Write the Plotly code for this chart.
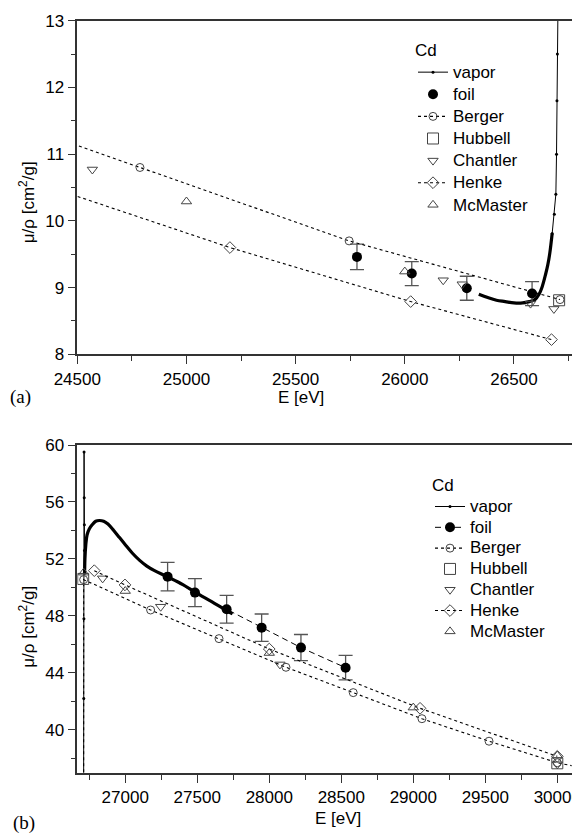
import plotly.graph_objects as go

W, H = 580, 835
OFF = 8  # page body margin of the html page
FONT = "Liberation Sans, Arial, sans-serif"

# ---------------- panel (a) data ----------------
a_vapor_edge_E = [26675, 26685, 26692, 26695, 26697, 26699, 26701, 26704]
a_vapor_edge_mu = [9.81, 10.1, 10.4, 11.0, 11.8, 12.5, 13.2, 14.0]
a_vapor_E = [26339, 26380, 26420, 26460, 26500, 26540, 26570, 26596, 26615, 26629, 26645, 26655, 26664, 26675]
a_vapor_mu = [8.90, 8.85, 8.81, 8.79, 8.77, 8.77, 8.79, 8.82, 8.90, 9.01, 9.20, 9.34, 9.51, 9.81]
a_foil_E = [25781, 26032, 26284, 26583]
a_foil_mu = [9.46, 9.21, 8.99, 8.91]
a_foil_err = [0.19, 0.18, 0.18, 0.18]
a_berger_E = [24300, 24787, 25745, 26711]
a_berger_mu = [11.36, 10.80, 9.70, 8.82]
a_hubbell_E = [26707]
a_hubbell_mu = [8.81]
a_chantler_E = [24569, 26176, 26263, 26576, 26683]
a_chantler_mu = [10.77, 9.11, 9.05, 8.76, 8.68]
a_henke_E = [24397, 25199, 26027, 26672]
a_henke_mu = [10.48, 9.60, 8.79, 8.22]
a_mcmaster_E = [25000, 26000]
a_mcmaster_mu = [10.29, 9.24]

# ---------------- panel (b) data ----------------
b_vapor_edge_E = [26711, 26712, 26713, 26714, 26715, 26716, 26717, 26718]
b_vapor_edge_mu = [36.0, 42.2, 47.8, 59.5, 56.3, 54.4, 52.6, 51.0]
b_vapor_E = [26718, 26720, 26726, 26735, 26750, 26770, 26795, 26820, 26850, 26880, 26920, 26960,
             27000, 27050, 27100, 27150, 27200, 27290, 27400, 27490, 27600, 27700, 27745]
b_vapor_mu = [51.0, 52.0, 53.0, 53.7, 54.1, 54.4, 54.65, 54.7, 54.65, 54.45, 54.0, 53.5,
              53.0, 52.4, 51.9, 51.5, 51.2, 50.76, 50.2, 49.64, 49.0, 48.4, 48.15]
b_foil_E = [27294, 27484, 27704, 27947, 28220, 28530]
b_foil_mu = [50.76, 49.64, 48.47, 47.18, 45.78, 44.37]
b_foil_err = [1.0, 0.98, 0.97, 0.96, 0.92, 0.86]
b_berger_E = [26711, 26711, 27176, 27651, 28116, 28583, 29060, 29526, 30000, 40000]
b_berger_mu = [8.82, 50.55, 48.42, 46.41, 44.40, 42.62, 40.79, 39.21, 37.70, 17.0]
b_hubbell_E = [26708, 30000]
b_hubbell_mu = [50.6, 37.66]
b_chantler_E = [26843, 27246, 28074, 30000]
b_chantler_mu = [50.64, 48.65, 44.60, 37.59]
b_henke_E = [26785, 26998, 28000, 29047, 30000]
b_henke_mu = [51.18, 50.18, 45.68, 41.52, 38.15]
b_mcmaster_E = [26711, 27000, 28000, 29000, 30000]
b_mcmaster_mu = [51.04, 49.75, 45.40, 41.57, 38.20]

legend_names = ["vapor", "foil", "Berger", "Hubbell", "Chantler", "Henke", "McMaster"]

GRAY = "#444444"


def px_x(p):
    return (p - OFF) / W


def px_y(p):
    return 1 - (p - OFF) / H


fig = go.Figure()


def add_panel(xa, ya, leg, d, foil_line):
    (ve_E, ve_mu, v_E, v_mu, f_E, f_mu, f_err, be_E, be_mu, hu_E, hu_mu,
     ch_E, ch_mu, he_E, he_mu, mc_E, mc_mu) = d
    common = dict(xaxis=xa, yaxis=ya, legend=leg)
    nm = ['<span style="font-size:17px">%s</span>' % n for n in legend_names]
    fig.add_trace(go.Scatter(x=ve_E, y=ve_mu, mode="lines+markers", name=nm[0],
                             legendgroup=leg + "v",
                             line=dict(color="black", width=1),
                             marker=dict(size=3, color="black"), **common))
    fig.add_trace(go.Scatter(x=v_E, y=v_mu, mode="lines", name=nm[0],
                             legendgroup=leg + "v", showlegend=False,
                             line=dict(color="black", width=3.2, shape="spline"), **common))
    fig.add_trace(go.Scatter(x=f_E, y=f_mu, mode="lines+markers" if foil_line else "markers",
                             name=nm[1],
                             line=dict(color="black", width=1, dash="6px,4px"),
                             marker=dict(size=10, color="black"),
                             error_y=dict(type="data", array=f_err, visible=True,
                                          color="#555555", thickness=1.3, width=7),
                             **common))
    fig.add_trace(go.Scatter(x=be_E, y=be_mu, mode="lines+markers", name=nm[2],
                             line=dict(color="black", width=1.1, dash="dot"),
                             marker=dict(symbol="circle-open", size=8, color=GRAY,
                                         line=dict(width=1)), **common))
    fig.add_trace(go.Scatter(x=hu_E, y=hu_mu, mode="markers", name=nm[3],
                             marker=dict(symbol="square-open", size=11, color=GRAY,
                                         line=dict(width=1)), **common))
    fig.add_trace(go.Scatter(x=ch_E, y=ch_mu, mode="markers", name=nm[4],
                             marker=dict(symbol="triangle-down-open", size=9, color=GRAY,
                                         line=dict(width=1)), **common))
    fig.add_trace(go.Scatter(x=he_E, y=he_mu, mode="lines+markers", name=nm[5],
                             line=dict(color="black", width=1.1, dash="dot"),
                             marker=dict(symbol="diamond-open", size=9, color=GRAY,
                                         line=dict(width=1)), **common))
    fig.add_trace(go.Scatter(x=mc_E, y=mc_mu, mode="markers", name=nm[6],
                             marker=dict(symbol="triangle-up-open", size=9, color=GRAY,
                                         line=dict(width=1)), **common))


add_panel("x", "y", "legend",
          (a_vapor_edge_E, a_vapor_edge_mu, a_vapor_E, a_vapor_mu, a_foil_E, a_foil_mu, a_foil_err,
           a_berger_E, a_berger_mu, a_hubbell_E, a_hubbell_mu, a_chantler_E, a_chantler_mu,
           a_henke_E, a_henke_mu, a_mcmaster_E, a_mcmaster_mu), False)
add_panel("x2", "y2", "legend2",
          (b_vapor_edge_E, b_vapor_edge_mu, b_vapor_E, b_vapor_mu, b_foil_E, b_foil_mu, b_foil_err,
           b_berger_E, b_berger_mu, b_hubbell_E, b_hubbell_mu, b_chantler_E, b_chantler_mu,
           b_henke_E, b_henke_mu, b_mcmaster_E, b_mcmaster_mu), True)

axis_common = dict(showgrid=False, zeroline=False, showline=True, linecolor="#333333",
                   linewidth=1.6, mirror=True, ticks="outside", ticklen=8, tickwidth=1.4,
                   tickcolor="#333333", tickfont=dict(family=FONT, size=17, color="black"),
                   tickformat="d", automargin=False, ticklabeloverflow="allow")

fig.update_layout(
    template="none",
    width=W, height=H, margin=dict(l=0, r=0, t=0, b=0, pad=0),
    plot_bgcolor="white", paper_bgcolor="white",
    font=dict(family=FONT, size=17, color="black"),
    xaxis=dict(domain=[px_x(77.3), px_x(577.7)], range=[24500, 26792], dtick=500, tick0=0,
               minor=dict(dtick=250, tick0=0, ticks="outside", ticklen=5, tickcolor="#333333"),
               anchor="y", **axis_common),
    yaxis=dict(domain=[px_y(354.3), px_y(20.7)], range=[8, 13], dtick=1, tick0=0,
               minor=dict(dtick=0.5, tick0=0, ticks="outside", ticklen=5, tickcolor="#333333"),
               anchor="x", **axis_common),
    xaxis2=dict(domain=[px_x(77.3), px_x(571.7)], range=[26667, 30100], dtick=500, tick0=0,
                minor=dict(dtick=250, tick0=0, ticks="outside", ticklen=5, tickcolor="#333333"),
                anchor="y2", **axis_common),
    yaxis2=dict(domain=[px_y(772.7), px_y(445)], range=[37, 60], dtick=4, tick0=0,
                minor=dict(dtick=2, tick0=0, ticks="outside", ticklen=5, tickcolor="#333333"),
                anchor="x2", **axis_common),
    legend=dict(x=px_x(413), y=px_y(34), xanchor="left", yanchor="top",
                bgcolor="rgba(0,0,0,0)", font=dict(family=FONT, size=14.7),
                title=dict(text="Cd", font=dict(family=FONT, size=17)), tracegroupgap=0),
    legend2=dict(x=px_x(430), y=px_y(469), xanchor="left", yanchor="top",
                 bgcolor="rgba(0,0,0,0)", font=dict(family=FONT, size=13.7),
                 title=dict(text="Cd", font=dict(family=FONT, size=17)), tracegroupgap=0),
    showlegend=True,
)

ann = [
    dict(text="μ/ρ [cm<sup>2</sup>/g]", x=px_x(26.7), y=px_y(202.5), textangle=-90),
    dict(text="μ/ρ [cm<sup>2</sup>/g]", x=px_x(26.7), y=px_y(627), textangle=-90),
    dict(text="E [eV]", x=px_x(300.7), y=px_y(397)),
    dict(text="E [eV]", x=px_x(338), y=px_y(818)),
]
for a in ann:
    fig.add_annotation(xref="paper", yref="paper", showarrow=False, xanchor="center",
                       yanchor="middle", font=dict(family=FONT, size=17, color="black"), **a)
for t, cx, cy in [("(a)", 20.3, 397), ("(b)", 24, 823)]:
    fig.add_annotation(text=t, xref="paper", yref="paper", x=px_x(cx), y=px_y(cy),
                       showarrow=False, xanchor="center", yanchor="middle",
                       font=dict(family="Liberation Serif, Times New Roman, serif", size=19,
                                 color="black"))

fig.write_html("out.html")
